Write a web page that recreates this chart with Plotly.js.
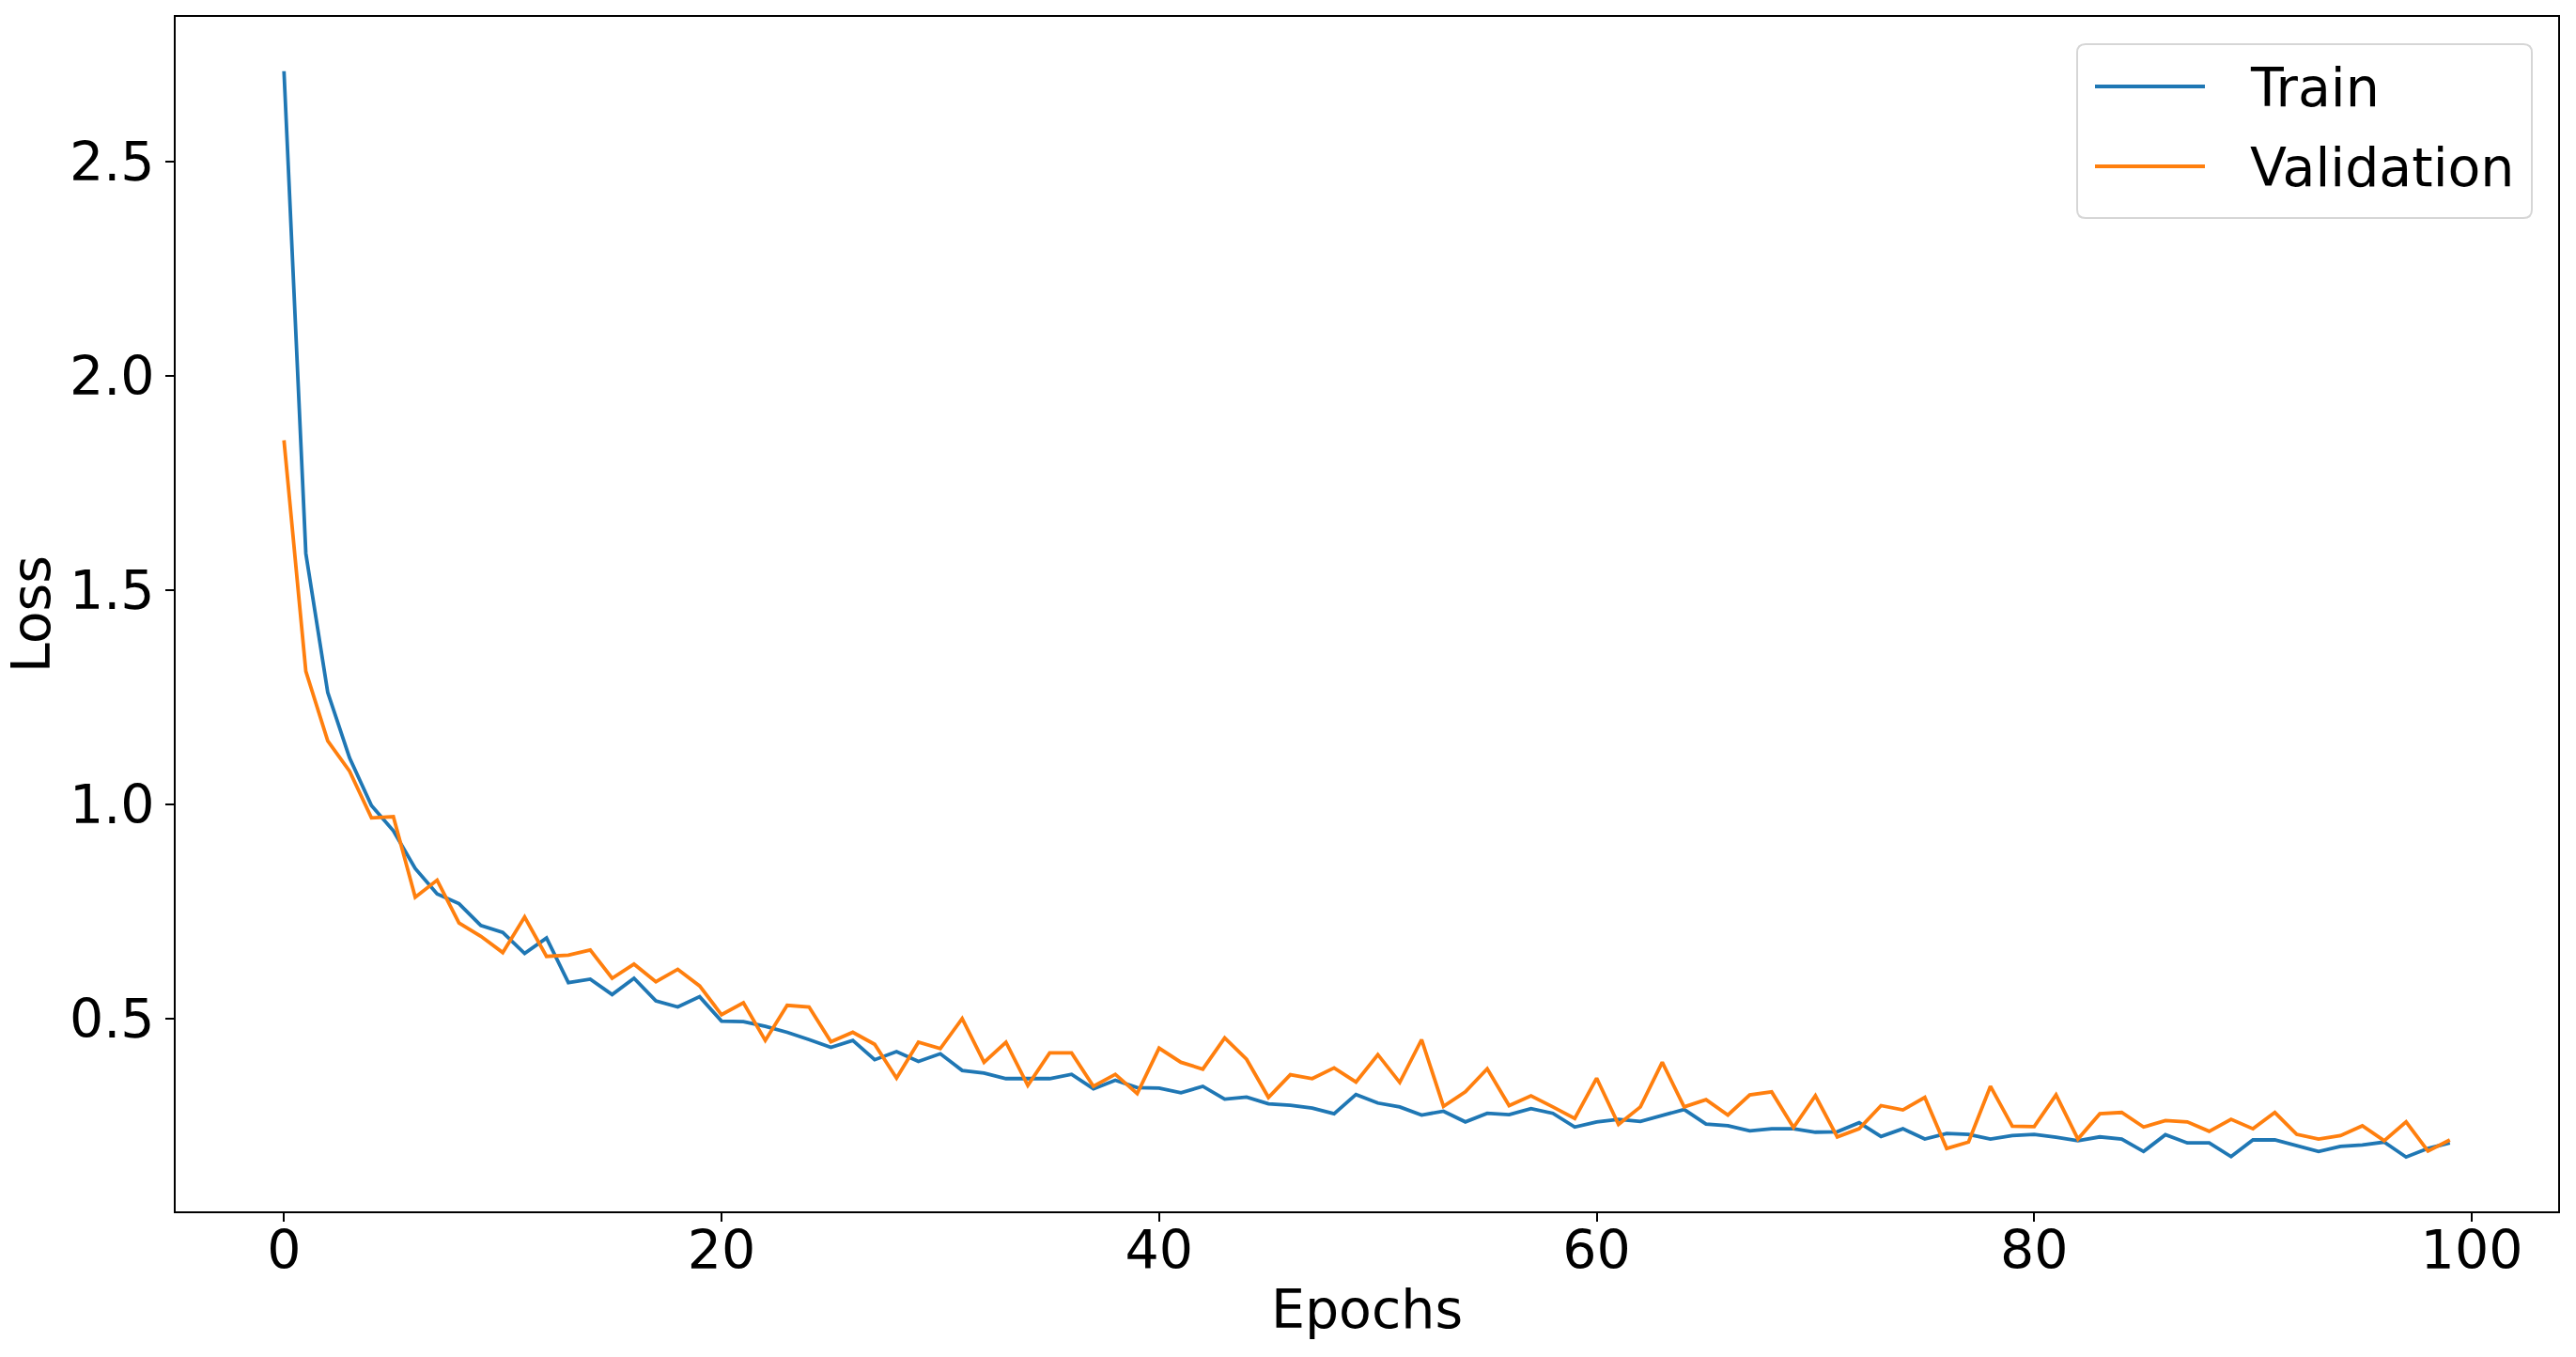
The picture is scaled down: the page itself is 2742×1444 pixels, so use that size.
<!DOCTYPE html>
<html>
<head>
<meta charset="utf-8">
<script src="https://cdn.plot.ly/plotly-3.0.1.min.js"></script>
<style>
  html, body { margin: 0; padding: 0; background: #ffffff; }
  #chart { width: 2742px; height: 1444px; }
</style>
</head>
<body>
<div id="chart"></div>
<script>
// ---- Data ----
const trainLoss = [
  2.710, 1.585, 1.261, 1.108, 0.997, 0.938, 0.850, 0.791, 0.768, 0.717,
  0.701, 0.652, 0.688, 0.584, 0.592, 0.556, 0.594, 0.541, 0.527, 0.551,
  0.494, 0.493, 0.482, 0.468, 0.451, 0.433, 0.449, 0.404, 0.423, 0.400,
  0.418, 0.379, 0.373, 0.360, 0.360, 0.360, 0.370, 0.336, 0.356, 0.339,
  0.338, 0.327, 0.342, 0.312, 0.317, 0.301, 0.298, 0.291, 0.278, 0.323,
  0.303, 0.294, 0.275, 0.284, 0.259, 0.279, 0.276, 0.290, 0.279, 0.247,
  0.259, 0.265, 0.260, 0.274, 0.288, 0.254, 0.250, 0.238, 0.243, 0.243,
  0.235, 0.236, 0.257, 0.225, 0.243, 0.219, 0.232, 0.230, 0.219, 0.227,
  0.230, 0.223, 0.215, 0.224, 0.219, 0.190, 0.229, 0.210, 0.210, 0.178,
  0.217, 0.217, 0.203, 0.190, 0.202, 0.205, 0.212, 0.177, 0.197, 0.210
];
const valLoss = [
  1.849, 1.310, 1.148, 1.077, 0.968, 0.971, 0.783, 0.823, 0.723, 0.692,
  0.654, 0.737, 0.645, 0.648, 0.660, 0.594, 0.627, 0.586, 0.615, 0.576,
  0.509, 0.537, 0.449, 0.531, 0.527, 0.446, 0.468, 0.440, 0.361, 0.445,
  0.430, 0.500, 0.398, 0.445, 0.344, 0.420, 0.420, 0.342, 0.370, 0.325,
  0.431, 0.398, 0.382, 0.455, 0.405, 0.316, 0.369, 0.360, 0.385, 0.352,
  0.416, 0.351, 0.451, 0.295, 0.329, 0.383, 0.297, 0.320, 0.294, 0.267,
  0.361, 0.253, 0.294, 0.398, 0.294, 0.311, 0.275, 0.322, 0.329, 0.246,
  0.320, 0.224, 0.243, 0.297, 0.287, 0.316, 0.197, 0.212, 0.342, 0.249,
  0.248, 0.322, 0.219, 0.278, 0.281, 0.247, 0.262, 0.259, 0.237, 0.265,
  0.243, 0.281, 0.230, 0.219, 0.227, 0.250, 0.215, 0.259, 0.191, 0.217
];
const epochs = Array.from({ length: trainLoss.length }, (_, i) => i);
const seriesNames = ["Train", "Validation"];
const seriesColors = ["#1f77b4", "#ff7f0e"];
const xTickVals = [0, 20, 40, 60, 80, 100];
const yTickVals = [0.5, 1.0, 1.5, 2.0, 2.5];
const xTitle = "Epochs";
const yTitle = "Loss";

// matplotlib-like 5% auto margins
function padRange(vals, frac) {
  const lo = Math.min(...vals), hi = Math.max(...vals);
  const d = (hi - lo) * frac;
  return [lo - d, hi + d];
}
const xRange = padRange(epochs, 0.05);
const yRange = padRange(trainLoss.concat(valLoss), 0.05);

const W = 2742, H = 1444;
const M = { l: 187, r: 19, t: 18, b: 155 };
const FONT = "DejaVu Sans, Liberation Sans, sans-serif";
const FS = 57;
const LW = 3.8;

const traces = [
  { x: epochs, y: trainLoss, name: seriesNames[0], type: "scatter", mode: "lines",
    line: { color: seriesColors[0], width: LW } },
  { x: epochs, y: valLoss, name: seriesNames[1], type: "scatter", mode: "lines",
    line: { color: seriesColors[1], width: LW } }
];

// ---- matplotlib-style legend box (pixel geometry -> paper coords) ----
const PW = W - M.l - M.r, PH = H - M.t - M.b;
const px2x = p => (p - M.l) / PW;
const py2y = p => (H - M.b - p) / PH;
const box = { x0: 2211, x1: 2695, y0: 47, y1: 232, r: 9 };
function roundedRectPath(b) {
  const X0 = px2x(b.x0), X1 = px2x(b.x1), Y0 = py2y(b.y0), Y1 = py2y(b.y1);
  const rx = b.r / PW, ry = b.r / PH;
  return `M${X0 + rx},${Y0} L${X1 - rx},${Y0} Q${X1},${Y0} ${X1},${Y0 - ry} ` +
         `L${X1},${Y1 + ry} Q${X1},${Y1} ${X1 - rx},${Y1} L${X0 + rx},${Y1} ` +
         `Q${X0},${Y1} ${X0},${Y1 + ry} L${X0},${Y0 - ry} Q${X0},${Y0} ${X0 + rx},${Y0} Z`;
}
const legendRowsY = [92, 177];
const legendLineX = [2230, 2347];
const legendTextX = 2393;

const shapes = [{
  type: "path", xref: "paper", yref: "paper", path: roundedRectPath(box),
  fillcolor: "rgba(255,255,255,0.8)", line: { color: "#d6d6d6", width: 2 }, layer: "above"
}];
const annotations = [];
seriesNames.forEach((name, i) => {
  shapes.push({
    type: "line", xref: "paper", yref: "paper", layer: "above",
    x0: px2x(legendLineX[0]), x1: px2x(legendLineX[1]),
    y0: py2y(legendRowsY[i]), y1: py2y(legendRowsY[i]),
    line: { color: seriesColors[i], width: LW }
  });
  annotations.push({
    xref: "paper", yref: "paper", x: px2x(legendTextX), y: py2y(legendRowsY[i] + 1),
    xanchor: "left", yanchor: "middle", showarrow: false, text: name,
    font: { family: FONT, size: FS, color: "#000000" }
  });
});

const axisCommon = {
  showline: true, mirror: true, linecolor: "#000000", linewidth: 2,
  ticks: "outside", ticklen: 9, tickwidth: 2, tickcolor: "#000000",
  showgrid: false, zeroline: false,
  tickfont: { family: FONT, size: FS, color: "#000000" }
};

const layout = {
  width: W, height: H,
  paper_bgcolor: "#ffffff", plot_bgcolor: "#ffffff",
  margin: { l: M.l, r: M.r, t: M.t, b: M.b, pad: 0 },
  font: { family: FONT, size: FS, color: "#000000" },
  showlegend: false,
  shapes: shapes,
  annotations: annotations,
  xaxis: Object.assign({}, axisCommon, {
    range: xRange, tickvals: xTickVals, ticktext: xTickVals.map(String),
    ticklabelstandoff: -18,
    title: { text: xTitle, font: { family: FONT, size: FS, color: "#000000" }, standoff: 11 }
  }),
  yaxis: Object.assign({}, axisCommon, {
    range: yRange, tickvals: yTickVals, ticktext: yTickVals.map(v => v.toFixed(1)),
    title: { text: yTitle, font: { family: FONT, size: FS, color: "#000000" }, standoff: 6 }
  })
};

Plotly.newPlot("chart", traces, layout, { displayModeBar: false, staticPlot: true });
</script>
</body>
</html>
